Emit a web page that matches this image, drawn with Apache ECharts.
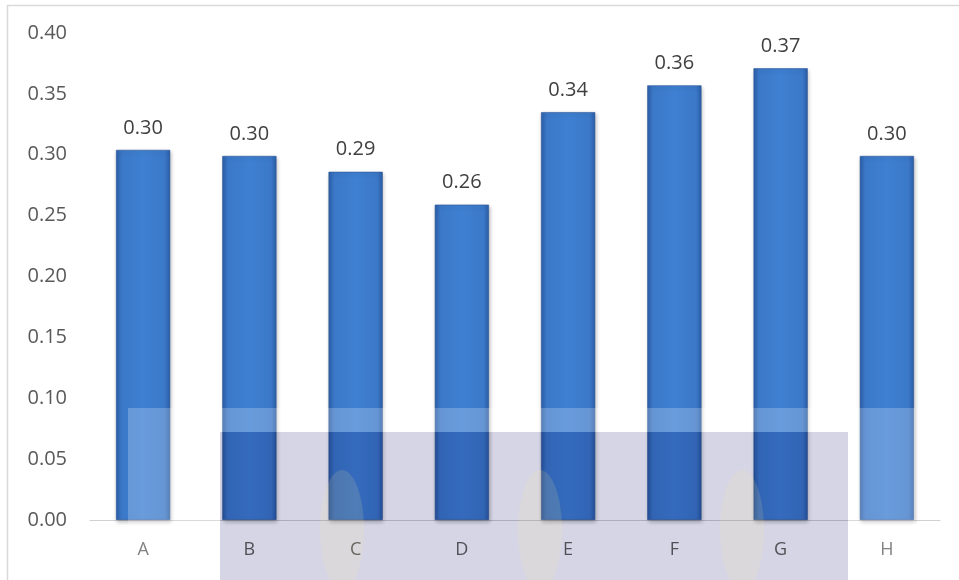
<!DOCTYPE html>
<html><head><meta charset="utf-8">
<script src="https://cdn.jsdelivr.net/npm/echarts@6/dist/echarts.min.js"></script>
<style>html,body{margin:0;padding:0;background:#fff}#c{width:959px;height:580px}</style>
</head><body><div id="c"></div>
<script>
const categories = ['A','B','C','D','E','F','G','H'];
const values = [0.304, 0.299, 0.286, 0.259, 0.335, 0.357, 0.371, 0.299];
const yTicks = [0, 0.05, 0.10, 0.15, 0.20, 0.25, 0.30, 0.35, 0.40];

const chart = echarts.init(document.getElementById('c'), null, {renderer:'canvas'});
const font = '"Open Sans", "Liberation Sans", sans-serif';
const barGrad = new echarts.graphic.LinearGradient(0,0,1,0,[
  {offset:0, color:'#2c5ea8'},
  {offset:0.1, color:'#3b78c8'},
  {offset:0.5, color:'#3f80d2'},
  {offset:0.9, color:'#3b78c8'},
  {offset:1, color:'#2c5ea8'}
]);
chart.setOption({
  animation:false,
  grid:{left:90, right:19, top:33, bottom:60, containLabel:false},
  xAxis:{type:'category', data:categories,
    axisLine:{lineStyle:{color:'#d0d0d0', width:1}},
    axisTick:{show:false},
    axisLabel:{color:'#606060', fontFamily:font, fontSize:18, margin:21}
  },
  yAxis:{type:'value', min:0, max:0.4, interval:0.05,
    axisLine:{show:false}, axisTick:{show:false}, splitLine:{show:false},
    axisLabel:{color:'#595959', fontFamily:font, fontSize:20, margin:23, align:'right',
      formatter:v=>{const t=yTicks.find(x=>Math.abs(x-v)<1e-9); return (t!==undefined?t:v).toFixed(2);}}
  },
  series:[{
    type:'bar', data:values, barWidth:'51%',
    itemStyle:{color:barGrad, borderColor:'#2a5595', borderWidth:0.6,
      shadowColor:'rgba(0,0,0,0.25)', shadowBlur:4, shadowOffsetX:1, shadowOffsetY:2},
    label:{show:true, position:'top', distance:12, color:'#404040', fontFamily:font, fontSize:20,
      formatter:p=>p.value.toFixed(2)}
  }],
  graphic:[
    {type:'line', shape:{x1:7,y1:5.5,x2:959,y2:5.5}, style:{stroke:'#d9d9d9', lineWidth:1.5}, z:100},
    {type:'line', shape:{x1:7.5,y1:5,x2:7.5,y2:580}, style:{stroke:'#d9d9d9', lineWidth:1.5}, z:100},
    {type:'rect', shape:{x:128,y:408,width:787,height:24}, style:{fill:'rgba(255,255,255,0.22)'}, z:100},
    {type:'rect', shape:{x:128,y:432,width:92,height:148}, style:{fill:'rgba(255,255,255,0.22)'}, z:100},
    {type:'rect', shape:{x:848,y:432,width:67,height:148}, style:{fill:'rgba(255,255,255,0.22)'}, z:100},
    {type:'rect', shape:{x:220,y:432,width:628,height:148}, style:{fill:'rgba(183,183,212,0.58)', blend:'multiply'}, z:101},
    {type:'ellipse', shape:{cx:342,cy:530,rx:22,ry:60}, style:{fill:'rgba(245,235,150,0.14)'}, z:102},
    {type:'ellipse', shape:{cx:540,cy:530,rx:22,ry:60}, style:{fill:'rgba(245,235,150,0.14)'}, z:102},
    {type:'ellipse', shape:{cx:742,cy:530,rx:22,ry:60}, style:{fill:'rgba(245,235,150,0.14)'}, z:102}
  ]
});
</script></body></html>
